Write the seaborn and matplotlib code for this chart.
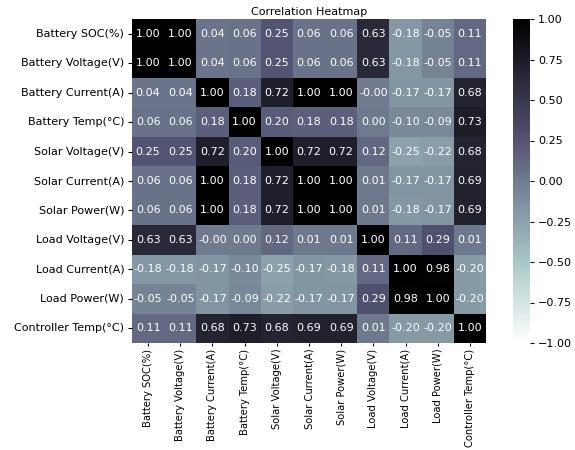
import matplotlib
matplotlib.use("Agg")
import matplotlib.pyplot as plt
import seaborn as sns
import numpy as np
import pandas as pd

labels = ["Battery SOC(%)", "Battery Voltage(V)", "Battery Current(A)", "Battery Temp(°C)",
          "Solar Voltage(V)", "Solar Current(A)", "Solar Power(W)", "Load Voltage(V)",
          "Load Current(A)", "Load Power(W)", "Controller Temp(°C)"]

row_soc      = [1.00, 1.00, 0.04, 0.06, 0.25, 0.06, 0.06, 0.63, -0.18, -0.05, 0.11]
row_bvolt    = [1.00, 1.00, 0.04, 0.06, 0.25, 0.06, 0.06, 0.63, -0.18, -0.05, 0.11]
row_bcurr    = [0.04, 0.04, 1.00, 0.18, 0.72, 1.00, 1.00, -0.001, -0.17, -0.17, 0.68]
row_btemp    = [0.06, 0.06, 0.18, 1.00, 0.20, 0.18, 0.18, 0.00, -0.10, -0.09, 0.73]
row_svolt    = [0.25, 0.25, 0.72, 0.20, 1.00, 0.72, 0.72, 0.12, -0.25, -0.22, 0.68]
row_scurr    = [0.06, 0.06, 1.00, 0.18, 0.72, 1.00, 1.00, 0.01, -0.17, -0.17, 0.69]
row_spow     = [0.06, 0.06, 1.00, 0.18, 0.72, 1.00, 1.00, 0.01, -0.18, -0.17, 0.69]
row_lvolt    = [0.63, 0.63, -0.001, 0.00, 0.12, 0.01, 0.01, 1.00, 0.11, 0.29, 0.01]
row_lcurr    = [-0.18, -0.18, -0.17, -0.10, -0.25, -0.17, -0.18, 0.11, 1.00, 0.98, -0.20]
row_lpow     = [-0.05, -0.05, -0.17, -0.09, -0.22, -0.17, -0.17, 0.29, 0.98, 1.00, -0.20]
row_ctemp    = [0.11, 0.11, 0.68, 0.73, 0.68, 0.69, 0.69, 0.01, -0.20, -0.20, 1.00]

corr = pd.DataFrame([row_soc, row_bvolt, row_bcurr, row_btemp, row_svolt, row_scurr,
                     row_spow, row_lvolt, row_lcurr, row_lpow, row_ctemp],
                    index=labels, columns=labels)

W, H = 575, 450
fig = plt.figure(figsize=(5.75, 4.5), dpi=100)
ax = fig.add_axes([132/W, 1-343/H, (486-132)/W, (343-19)/H])
cax = fig.add_axes([513/W, 1-343/H, 17/W, (343-19)/H])

fs = 8
sns.heatmap(corr, ax=ax, cbar_ax=cax, cmap="bone_r", vmin=-1, vmax=1,
            annot=True, fmt=".2f", annot_kws={"color": "white", "fontsize": fs})
ax.set_title("Correlation Heatmap", fontsize=fs, pad=3)
ax.tick_params(axis="y", labelsize=fs, length=2.8, width=0.8, pad=2.8)
ax.tick_params(axis="x", labelsize=7.2, length=2.5, width=0.8, pad=1.5)
cax.tick_params(labelsize=fs, length=2.8, width=0.8, pad=2.8)
plt.setp(ax.get_xticklabels(), rotation=90)
plt.setp(ax.get_yticklabels(), rotation=0)

fig.savefig("out.png", dpi=100)
